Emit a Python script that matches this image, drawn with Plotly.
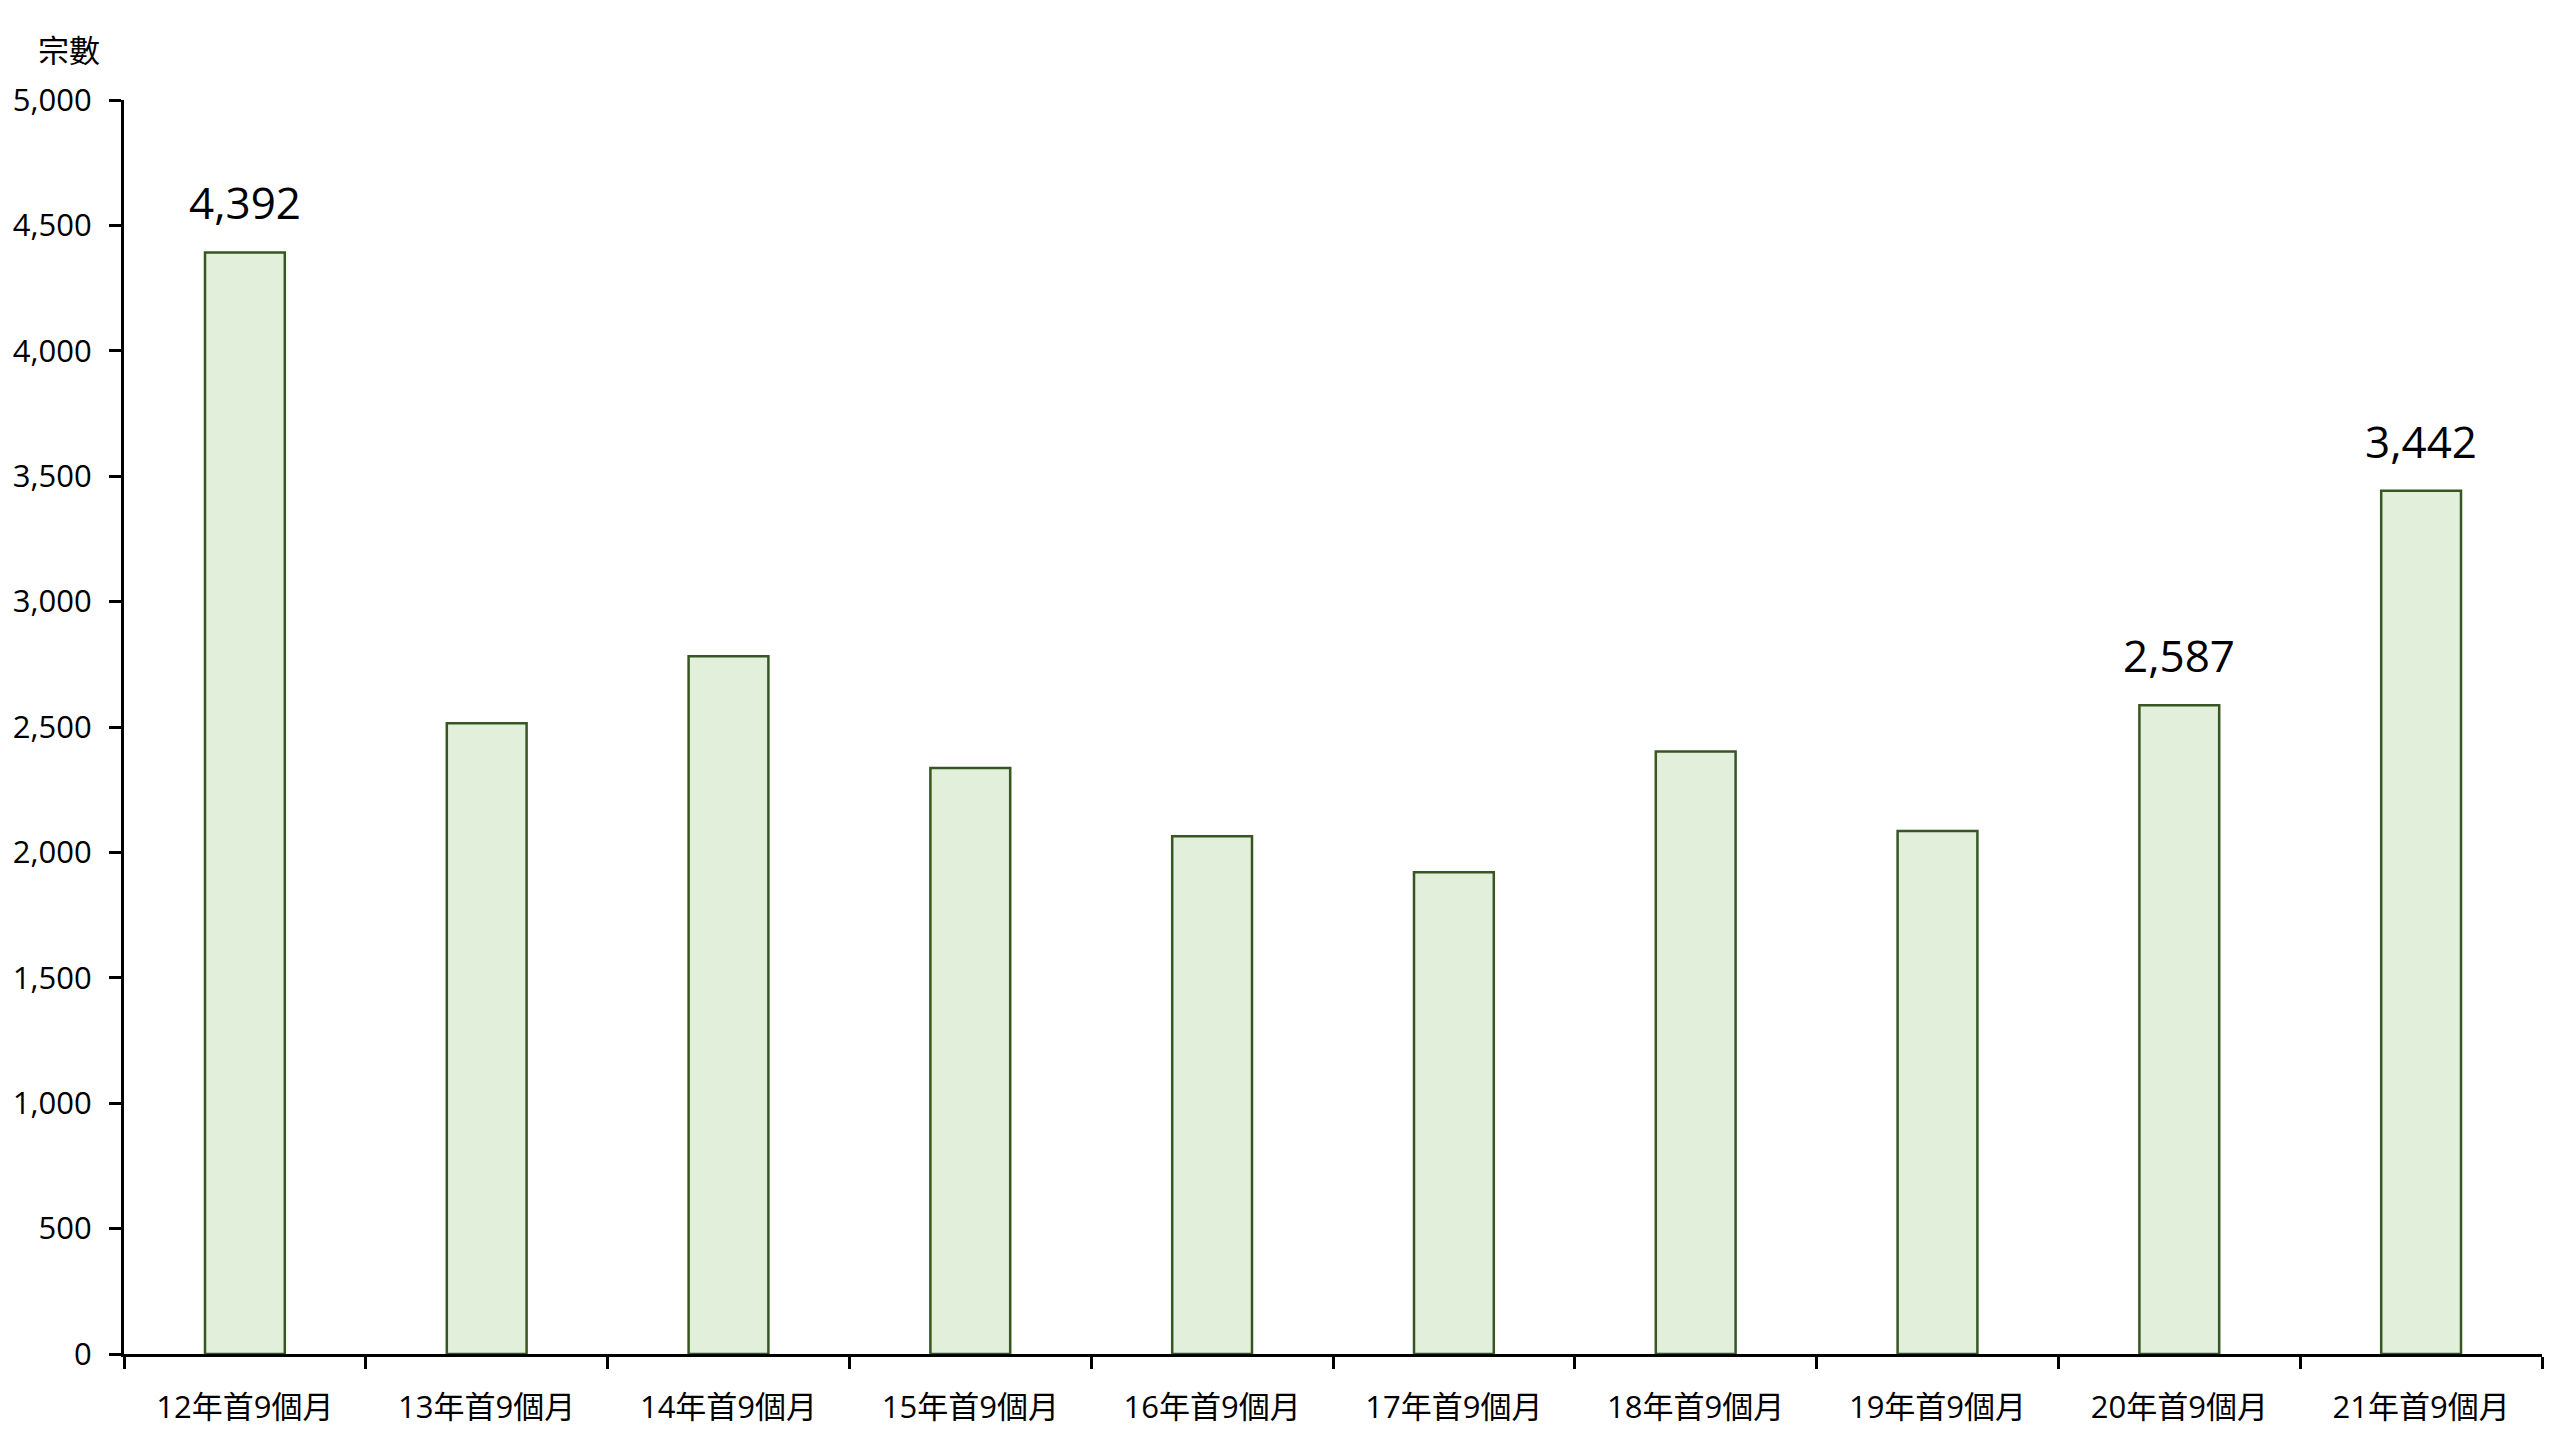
import plotly.graph_objects as go

categories = ["12年首9個月", "13年首9個月", "14年首9個月", "15年首9個月", "16年首9個月",
              "17年首9個月", "18年首9個月", "19年首9個月", "20年首9個月", "21年首9個月"]
values = [4392, 2515, 2782, 2337, 2064, 1921, 2402, 2085, 2587, 3442]
labelled = ["12年首9個月", "20年首9個月", "21年首9個月"]
y_ticks = [0, 500, 1000, 1500, 2000, 2500, 3000, 3500, 4000, 4500, 5000]
y_title = "宗數"

FONT = "Open Sans, Noto Sans CJK TC, sans-serif"

fig = go.Figure()
fig.add_trace(go.Bar(
    x=categories, y=values,
    marker=dict(color="#E2EFDA", line=dict(color="#375623", width=2.5)),
    width=0.33,
    hoverinfo="x+y",
))

for c, v in zip(categories, values):
    if c in labelled:
        fig.add_annotation(x=c, y=v, text=f"{v:,}", showarrow=False,
                           yanchor="bottom", yshift=18,
                           font=dict(family=FONT, size=44, color="#000000"))

fig.add_annotation(xref="paper", yref="paper", x=-0.009, y=1.0, yshift=50,
                   text=y_title, showarrow=False, xanchor="right", yanchor="middle",
                   font=dict(family=FONT, size=31, color="#000000"))

fig.update_layout(
    width=2560, height=1440,
    margin=dict(l=116, r=26, t=92, b=94, autoexpand=False),
    paper_bgcolor="white", plot_bgcolor="white",
    showlegend=False,
    font=dict(family=FONT, color="#000000"),
)
fig.update_xaxes(
    type="category", range=[-0.5, len(categories) - 0.5],
    showline=True, linecolor="#000000", linewidth=3,
    ticks="outside", tickson="boundaries", ticklen=12, tickwidth=3, tickcolor="#000000",
    tickfont=dict(family=FONT, size=31, color="#000000"),
    showgrid=False, zeroline=False, ticklabelstandoff=24,
)
fig.update_yaxes(
    range=[0, 5000], tickvals=y_ticks, ticktext=[f"{t:,}" for t in y_ticks],
    showline=True, linecolor="#000000", linewidth=3,
    ticks="outside", ticklen=12, tickwidth=3, tickcolor="#000000",
    tickfont=dict(family=FONT, size=31, color="#000000"),
    showgrid=False, zeroline=False, ticklabelstandoff=11,
)

fig.write_html("out.html")
